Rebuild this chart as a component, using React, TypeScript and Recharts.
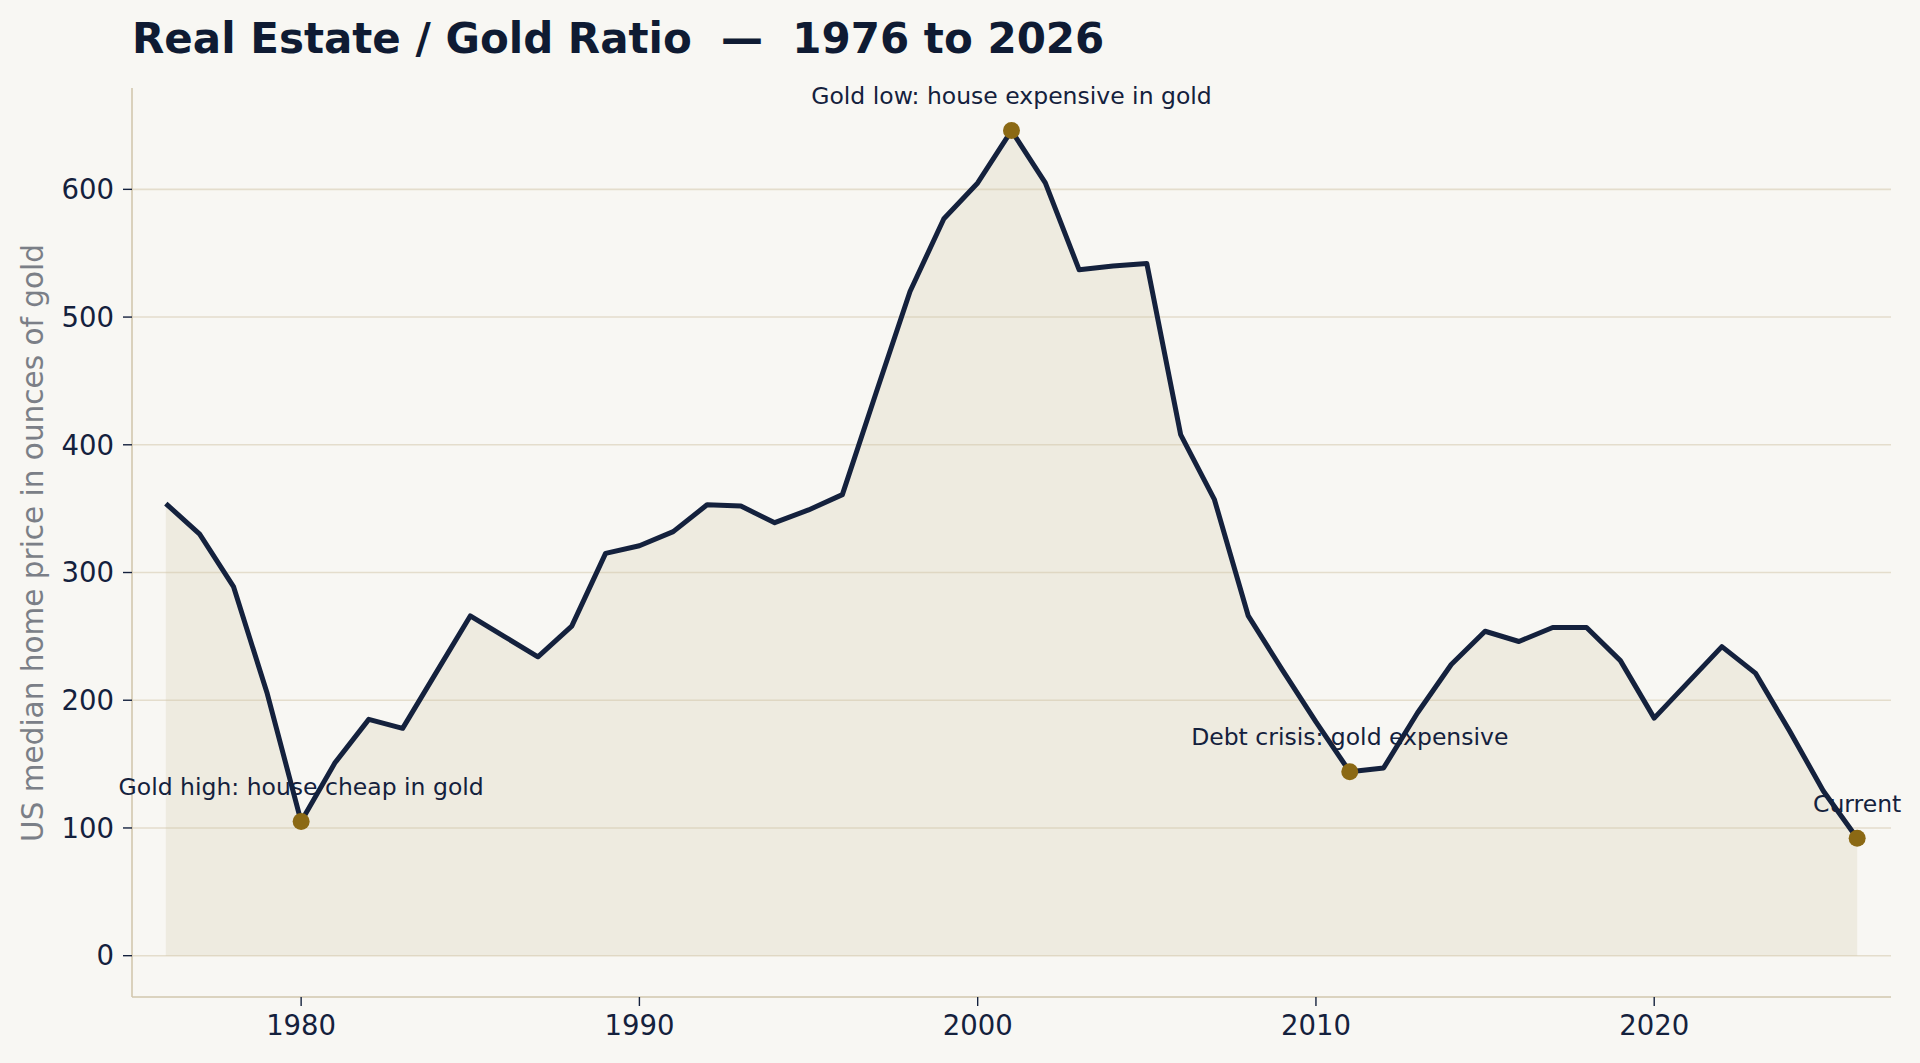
import React from "react";
import {
  ComposedChart,
  Area,
  Line,
  XAxis,
  YAxis,
  CartesianGrid,
  ReferenceDot,
} from "recharts";

const years = [
  1976, 1977, 1978, 1979, 1980, 1981, 1982, 1983, 1984, 1985, 1986, 1987, 1988,
  1989, 1990, 1991, 1992, 1993, 1994, 1995, 1996, 1997, 1998, 1999, 2000, 2001,
  2002, 2003, 2004, 2005, 2006, 2007, 2008, 2009, 2010, 2011, 2012, 2013, 2014,
  2015, 2016, 2017, 2018, 2019, 2020, 2021, 2022, 2023, 2024, 2025, 2026,
];

const ratios = [
  354, 330, 289, 205, 105, 151, 185, 178, 222, 266, 250, 234, 258, 315, 321,
  332, 353, 352, 339, 349, 361, 441, 520, 577, 605, 646, 605, 537, 540, 542,
  408, 357, 266, 224, 183, 144, 147, 190, 228, 254, 246, 257, 257, 231, 186,
  214, 242, 221, 176, 129, 92,
];

const highlightYears = [1980, 2001, 2011, 2026];
const highlightLabels = [
  "Gold high: house cheap in gold",
  "Gold low: house expensive in gold",
  "Debt crisis: gold expensive",
  "Current",
];

const xTicks = [1980, 1990, 2000, 2010, 2020];
const yTicks = [0, 100, 200, 300, 400, 500, 600];
const yDomain = [-32.35, 679.35];

const titleText = "Real Estate / Gold Ratio  \u2014  1976 to 2026";
const yLabelText = "US median home price in ounces of gold";

const data = years.map((year, i) => ({ year, ratio: ratios[i] }));

const BG = "#f8f7f3";
const NAVY = "#14213d";
const GOLD = "#8b6914";
const FONT = "'DejaVu Sans', sans-serif";

function gridRows(props: any) {
  const yAxis = props && props.yAxis;
  if (yAxis && typeof yAxis.scale === "function") {
    return yTicks.map((t) => yAxis.scale(t));
  }
  const offset = props.offset || {};
  const top = offset.top ?? 0;
  const h = offset.height ?? 0;
  return yTicks.map(
    (t) => top + h * (1 - (t - yDomain[0]) / (yDomain[1] - yDomain[0]))
  );
}

export default function App() {
  return (
    <div
      style={{
        position: "absolute",
        left: 0,
        top: 0,
        width: 1920,
        height: 1063,
        background: BG,
        overflow: "hidden",
      }}
    >
      <ComposedChart
        width={1920}
        height={1063}
        data={data}
        margin={{ top: 88, right: 29, bottom: 6, left: 52 }}
      >
        <CartesianGrid
          vertical={false}
          stroke="#e4ddcc"
          strokeWidth={1.6}
          horizontalCoordinatesGenerator={gridRows}
        />
        <XAxis
          dataKey="year"
          type="number"
          domain={[1975, 2027]}
          ticks={xTicks}
          height={60}
          axisLine={{ stroke: "#d2c7ae", strokeWidth: 1.6 }}
          tickLine={{ stroke: NAVY, strokeWidth: 1.4 }}
          tickSize={9}
          tickMargin={9}
          tick={{ fill: NAVY, fontSize: 27.5, fontFamily: FONT }}
        />
        <YAxis
          type="number"
          domain={yDomain}
          ticks={yTicks}
          width={80}
          axisLine={{ stroke: "#d2c7ae", strokeWidth: 1.6 }}
          tickLine={{ stroke: NAVY, strokeWidth: 1.4 }}
          tickSize={9}
          tickMargin={9}
          tick={{ fill: NAVY, fontSize: 27.5, fontFamily: FONT }}
        />
        <Area
          type="linear"
          dataKey="ratio"
          baseValue={0}
          fill="#d0c7a7"
          fillOpacity={0.25}
          stroke="#d0c7a7"
          strokeOpacity={0.3}
          strokeWidth={1}
          isAnimationActive={false}
        />
        <Line
          type="linear"
          dataKey="ratio"
          stroke={NAVY}
          strokeWidth={5}
          strokeLinejoin="round"
          dot={false}
          activeDot={false}
          isAnimationActive={false}
        />
        {highlightYears.map((yr, i) => (
          <ReferenceDot
            key={yr}
            x={yr}
            y={ratios[years.indexOf(yr)]}
            r={8.5}
            fill={GOLD}
            stroke="none"
            ifOverflow="visible"
            label={{
              value: highlightLabels[i],
              position: "top",
              offset: 18,
              fill: NAVY,
              fontSize: 23.5,
              fontFamily: FONT,
            }}
          />
        ))}
      </ComposedChart>
      <svg
        width={1920}
        height={1063}
        style={{ position: "absolute", left: 0, top: 0, pointerEvents: "none" }}
      >
        <text
          x={132}
          y={52.7}
          fill="#0f1b33"
          fontSize={42}
          fontWeight="bold"
          fontFamily={FONT}
          style={{ whiteSpace: "pre" }}
        >
          {titleText}
        </text>
        <text
          x={0}
          y={0}
          transform="translate(43, 543) rotate(-90)"
          textAnchor="middle"
          fill="#7b7f87"
          fontSize={29.5}
          fontFamily={FONT}
        >
          {yLabelText}
        </text>
      </svg>
    </div>
  );
}
